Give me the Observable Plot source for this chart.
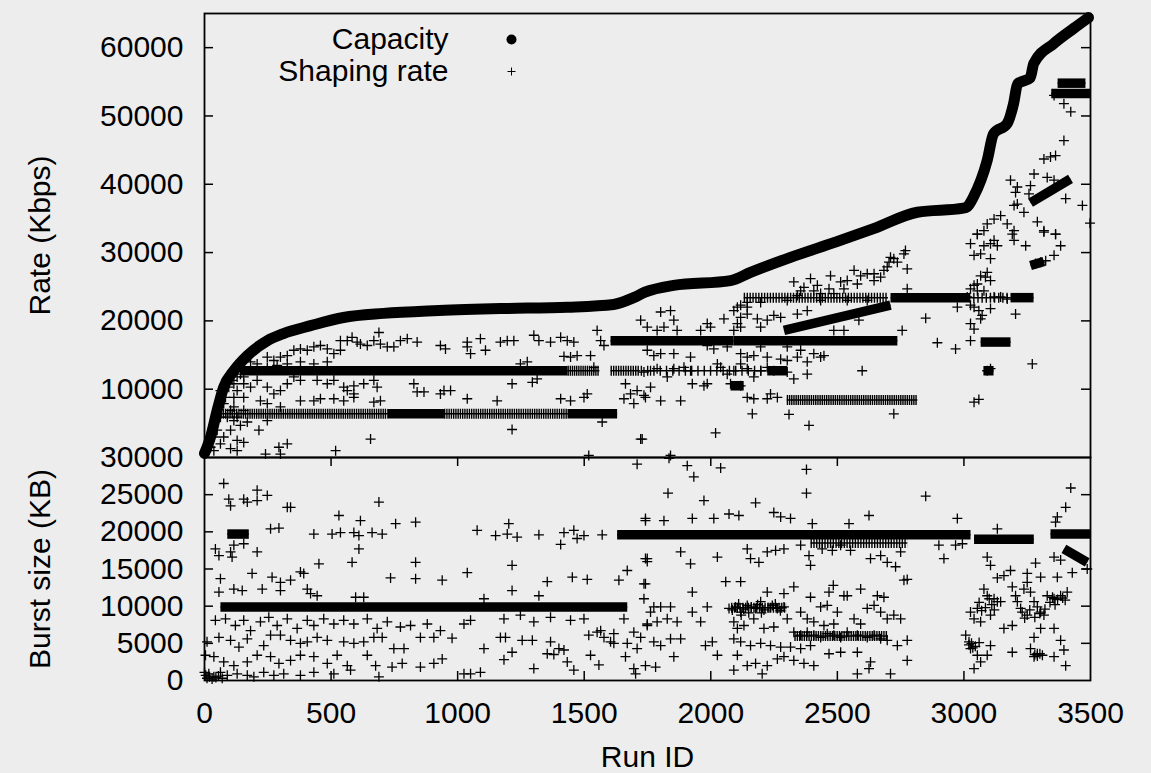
<!DOCTYPE html>
<html>
<head>
<meta charset="utf-8">
<script src="https://cdn.jsdelivr.net/npm/d3@7"></script>
<script src="https://cdn.jsdelivr.net/npm/@observablehq/plot@0.6"></script>
<style>
  html, body { margin: 0; padding: 0; background: #ededed; }
  #chart { position: relative; width: 1151px; height: 773px; }
  #chart svg { position: absolute; left: 0; }
</style>
</head>
<body>
<div id="chart"></div>
<script>
// ---------------- DATA ----------------
const xTicks = [0, 500, 1000, 1500, 2000, 2500, 3000, 3500];
const rateTicks = [10000, 20000, 30000, 40000, 50000, 60000];
const burstTicks = [0, 5000, 10000, 15000, 20000, 25000, 30000];

// Capacity (Kbps) by run ID, sorted ascending
const capacity = [
  [0,600],[10,1500],[24,3000],[50,6900],[76,10300],[116,12700],[169,14900],[248,17100],
  [312,18150],[419,19300],[549,20500],[707,21100],[905,21500],[1169,21800],[1434,22000],
  [1616,22400],[1695,23400],[1740,24200],[1853,25200],[2078,25900],[2157,27100],[2315,29300],
  [2498,31600],[2643,33500],[2816,35900],[2998,36500],[3013,36700],[3037,38100],[3092,43500],
  [3117,47400],[3171,48900],[3196,51800],[3212,54700],[3262,55600],[3276,57700],[3355,60600],
  [3433,62800],[3492,64400]
];

// Dense runs of shaping-rate points: run range, rate (Kbps), number of runs
const rateBands = [
  {from:142, to:1434, rate:12700, n:700},
  {from:1434, to:1560, rate:12700, n:15},
  {from:1604, to:1720, rate:12700, n:12},
  {from:1723, to:2220, rate:12700, n:20},
  {from:2223, to:2302, rate:12700, n:30},
  {from:63, to:722, rate:6400, n:75},
  {from:722, to:946, rate:6400, n:45},
  {from:946, to:1434, rate:6400, n:55},
  {from:1434, to:1630, rate:6400, n:100},
  {from:1604, to:2090, rate:17100, n:250},
  {from:2090, to:2737, rate:17100, n:120},
  {from:2078, to:2130, rate:10500, n:12},
  {from:2300, to:2816, rate:8400, n:60},
  {from:2130, to:2700, rate:23400, n:50},
  {from:2710, to:3020, rate:23400, n:150},
  {from:3020, to:3184, rate:23400, n:10},
  {from:3184, to:3275, rate:23400, n:40},
  {from:2289, to:2710, rate:18600, rateEnd:22300, n:80},
  {from:3066, to:3184, rate:16900, n:35},
  {from:3077, to:3117, rate:12700, n:12},
  {from:3263, to:3421, rate:37300, rateEnd:40800, n:35},
  {from:3263, to:3316, rate:28100, rateEnd:28700, n:8},
  {from:3345, to:3500, rate:53300, n:60},
  {from:3370, to:3480, rate:54800, n:30}
];

// Scattered shaping-rate points [run, Kbps]
const ratePoints = [
  [689,18300],[583,17600],[603,16900],[537,17100],[564,17100],[616,16600],[643,16400],[669,17100],[695,16600],[722,16200],[748,16200],[774,17100],[801,17400],[840,16900],[932,16400],[952,15900],[1038,16900],[1038,16200],[1051,15200],[1090,17400],[1110,15700],[1169,16900],[1196,17100],[1222,17100],[1301,17900],[1321,17100],[1367,16900],[1407,17600],[1433,17100],[1459,16900],[1551,18600],[1565,17100],[1578,16400],[1472,14900],[1525,14900],[1420,14800],[1446,14700],[1538,13200],[1275,14000],[1248,13700],
  [248,14700],[274,14200],[300,14700],[327,14900],[353,15700],[379,15900],[406,15700],[432,16200],[458,16400],[485,15900],[511,15200],[537,15700],[327,13700],[379,14000],[432,13700],[485,14000],[248,13200],[182,14000],[208,13700],[287,13500],
  [155,10800],[182,10300],[208,11300],[129,9800],[116,8800],[155,8800],[248,10300],[274,9300],[300,9800],[327,10800],[353,11800],[379,11300],[445,11300],[485,10800],[511,11300],[550,10300],[590,10500],[629,10800],[669,11300],[682,10300],[590,9300],[564,9800],[379,8300],[432,8300],[458,8600],[511,8600],[550,8300],[590,8800],[669,8100],[695,8300],[827,10800],[840,9600],[867,9600],[932,9300],[946,9800],[972,9800],[1038,8600],[1156,8300],[1215,10800],[1295,11000],[1314,11500],[1407,8600],[1446,8300],[1512,9300],[1499,8800],[1663,10800],[1683,9300],[1657,8600],[1696,7900],[1742,8800],[1709,9800],[300,7400],[248,7900],[221,8300],[116,7400],[103,6900],
  [116,5400],[142,4700],[169,5200],[215,4000],[248,5400],[129,2500],[155,2200],[294,1500],[327,2000],[241,500],[300,500],[518,1000],[656,2700],[1215,4100],[1571,5200],[1729,2700],[76,3000],[63,2000],[37,1000],[103,1300],[129,1000],[1518,300],
  [63,9800],[76,7900],[90,5900],[103,4000],[50,4000],[37,3000],[24,1500],[83,8800],[96,10300],[109,11300],[129,11800],[142,12200],[155,11800],[116,10800],[63,5900],[129,5900],[155,6900],
  [2118,22300],[2144,22700],[2105,22000],[2197,22700],[2302,23000],[2434,23000],[2539,23000],[2618,23000],
  [2328,25700],[2355,24400],[2394,26200],[2421,25200],[2473,26600],[2467,24700],[2513,25700],[2539,25900],[2566,27400],[2592,26600],[2618,26900],[2645,25900],[2671,26400],[2697,27900],[2710,29300],[2737,28600],[2763,29800],[2776,27600],[2776,24700],[2645,26900],[2579,25400],[2526,24700],[2407,24400],[2434,24000],[2486,24000],[2368,24900],[2342,23700],[2684,27400],[2723,29100],[2769,30300],[2704,28600],
  [2091,21500],[2118,20500],[2144,21000],[2184,20300],[2223,20100],[2276,20500],[2197,19100],[2118,19100],[2249,20800],[2091,18600],[2105,19600],[2144,22000],[2052,20300],[1986,19600],[1960,18600],[1999,19100],[1854,20100],[1802,21300],[1841,21500],[1788,18600],[1815,19100],[1867,18600],[1749,19100],[1723,20100],[2381,21500],[2342,21000],[2486,18600],[2526,18600],[2585,20100],[2756,18600],[2849,20400],[2974,22000],[3026,22300],
  [1749,15700],[1775,14900],[1802,15200],[1854,15200],[1920,14700],[1986,16400],[2012,15900],[2065,16200],[2118,15200],[2144,14700],[2170,14900],[2197,16200],[2223,14700],[2276,14400],[2302,14200],[2342,14700],[2381,14000],[2407,15200],[2434,14700],[2447,14900],[2355,15700],[2302,16200],
  [1736,12500],[1762,12700],[1788,13000],[1828,11800],[1854,13000],[1894,13200],[1920,12700],[1927,10800],[1973,10500],[1986,10800],[2026,13700],[2039,13200],[2065,12200],[2091,12700],[2118,13700],[2144,13000],[2170,11800],[2197,12700],[2223,13200],[2249,12700],[2302,12500],[2328,11500],[2381,12200],[1881,8300],[1802,8300],[1736,9100],[1762,10300],[2078,10800],[2118,10500],[2144,8800],[2170,8600],[2223,8600],[2236,9300],[2263,8800],[2598,12700],[2895,16800],[2967,15900],[2164,6400],[2309,6300],[2388,4700],[2723,6400],[2019,3600],[1723,2700],[1841,300],[3040,8100],
  [3026,31300],[3053,32700],[3079,31000],[3105,31300],[3119,31800],[3040,29600],[3066,29800],[3105,29100],[3132,31000],[3191,32700],[3198,31800],[3244,31000],[3316,33000],[3362,32700],[3382,31000],[3356,29600],[3283,28400],[3303,28600],[3323,28800],[3092,27100],[3066,26600],[3105,25900],[3040,25200],[3026,24700],[3053,25400],[3079,24400],[3040,22000],[3059,21500],[3072,20800],[3105,21800],[3026,19600],[3040,18800],[3026,17100],[3066,20300],[3119,23500],[3145,23500],[3171,23200],[3204,21000],[3270,13700],[3092,12700],[3105,13000],[3059,8500],[3013,23500],[3085,26400],[3053,24400],
  [3395,46400],[3316,43700],[3342,44000],[3362,44200],[3277,41500],[3329,41000],[3356,40600],[3184,40600],[3211,39600],[3263,39800],[3257,38600],[3402,37900],[3468,36900],[3198,36900],[3237,35900],[3290,34500],[3316,33200],[3362,32700],[3145,35400],[3119,34900],[3092,34200],[3079,33200],[3053,32700],[3171,34200],[3198,33200],[3422,50600],[3395,51800],[3356,53000],[3204,38800],[3211,37100],[3498,34300]
];

// Dense runs of burst-size points: run range, burst (KB), number of runs
const burstBands = [
  {from:63, to:1670, kb:9900, n:1400},
  {from:90, to:175, kb:19700, n:18},
  {from:1630, to:3026, kb:19600, n:900},
  {from:2394, to:2776, kb:18500, n:35},
  {from:3040, to:3276, kb:19000, n:90},
  {from:3342, to:3500, kb:19700, n:60},
  {from:3395, to:3487, kb:17700, kbEnd:15900, n:25},
  {from:2330, to:2700, kb:6000, n:40},
  {from:2080, to:2300, kb:9800, n:20}
];

// Scattered burst-size points [run, KB]
const burstPoints = [
  [76,26500],[96,24400],[103,23500],[155,24400],[169,24000],[208,25600],[208,24200],[248,24900],[327,23300],[340,23300],[261,20400],[294,20500],[43,17700],[57,16800],[103,17300],[109,16600],[116,18200],[155,18400],[208,17300],[63,13700],[57,11900],[188,14400],[267,13900],[300,13200],[340,13500],[379,14600],[392,14400],[228,12300],[300,12100],[116,12300],[149,12100],[406,12300],[419,11700],[445,11400],[432,19700],[504,19700],[537,19900],[590,19900],[610,19500],[662,19900],[702,19700],[616,21500],[689,24000],[755,21100],[834,21300],[531,22200],[610,17700],[452,15700],[583,15900],[834,15900],[735,13800],[834,13700],[939,13500],[1038,14500],[1077,20200],[1150,19500],[1196,19700],[1202,21100],[1235,19300],[1321,19600],[1407,18300],[1420,19900],[1459,20200],[1472,19100],[1499,19500],[1571,19600],[1215,15500],[1354,13300],[1453,13900],[1512,13600],[1215,12100],[1321,11400],[1637,13500],[1670,14800],[1709,29100],[1742,21500],[1742,16400],[1736,13000],[597,11200],[629,11200],[1104,11000],
  [43,8100],[83,8300],[122,7400],[155,8100],[182,6700],[221,7900],[254,8500],[287,7400],[327,8300],[366,7000],[406,8100],[432,7400],[471,8300],[511,7600],[550,8100],[590,7600],[643,8300],[682,7000],[722,7900],[774,7200],[814,7400],[880,7600],[932,6700],[1025,7600],[1051,8100],[1183,8300],[1248,8800],[1301,7900],[1367,8500],[1446,8100],[1499,8300],[1565,6700],[1617,6300],[1657,8300],[1696,6500],[1749,7400],
  [10,5200],[57,5800],[103,5400],[136,4500],[169,5600],[234,4700],[261,6100],[300,6100],[340,5400],[379,5000],[406,5200],[445,5800],[485,5400],[550,5200],[590,5000],[629,5200],[669,5800],[702,5800],[748,4300],[788,4300],[853,5800],[906,5800],[978,5700],[1104,4300],[1169,5800],[1189,5800],[1255,5400],[1295,5400],[1367,5200],[1400,4300],[1420,4100],[1518,6100],[1551,6500],[1578,5800],[1617,5000],[1670,5000],[1709,4300],
  [4,3400],[37,3200],[76,2500],[116,2000],[169,2500],[208,3400],[261,3200],[294,2300],[340,2700],[379,3400],[432,3200],[485,2300],[524,3400],[564,2000],[643,3400],[676,2000],[741,1800],[781,2300],[853,1800],[906,2300],[939,2900],[1183,2800],[1215,3800],[1301,1600],[1354,3600],[1380,3500],[1433,2500],[1459,1400],[1525,3400],[1558,2100],[1604,5200],[1663,3200],[1696,1600],
  [0,1100],[17,900],[37,500],[63,1100],[90,700],[129,900],[169,700],[195,500],[234,1100],[274,700],[313,900],[379,700],[432,1100],[511,900],[577,1400],[689,500],[1025,900],[1051,900],[1090,1100],[1703,900],[10,300],[20,500],[30,200],[45,400],[55,600],[70,300],[5,700],
  [1835,29900],[1907,28900],[1933,27400],[2039,28600],[2378,28400],[2378,25200],[1831,25200],[1973,24200],[2177,23900],[2849,24800],[3422,25900],[3402,23300],[3369,22000],[3362,21300],[1742,21800],[1815,21500],[1927,21800],[2012,21800],[2072,22400],[2111,22200],[2249,22600],[2276,22000],[2315,21800],[2401,21100],[2546,21100],[2625,22200],[2974,21800],[3132,20400],
  [1749,16400],[1749,16000],[1881,17300],[1920,15700],[2026,16600],[2144,17700],[2157,16400],[2190,15900],[2223,17300],[2256,17500],[2289,17700],[2355,18200],[2388,16800],[2394,15500],[2440,17700],[2480,17500],[2513,18200],[2552,17500],[2631,16400],[2671,16800],[2697,15900],[2730,15300],[2750,17300],[2776,13600],[2763,13500],[2901,18200],[2921,16400],[2967,18200],[2994,18400],[3092,16600],[3105,15500],[3132,13800],[3158,14100],[3184,14800],[3250,14400],[3283,15800],[3303,13900],[3356,16600],[3369,13900],[3382,16200],[3428,14500],[3487,15000],[2059,13300],[2118,13300],[2223,11900],[2289,11700],[2328,12600],[2394,11200],[2467,11900],[2484,12800],[2539,11400],[2592,12300],[2658,11400],[2684,11200],[1927,11900],[1742,13000],
  [3079,12300],[3092,11400],[3119,11000],[3145,10600],[3053,9700],[3026,9200],[3040,8300],[3066,7900],[3105,8800],[3132,10600],[3158,7000],[3191,7400],[3191,12600],[3204,11400],[3211,10600],[3224,9700],[3237,12300],[3250,13200],[3263,11900],[3277,10600],[3290,9900],[3303,9200],[3316,8800],[3329,11400],[3356,11000],[3382,11400],[3408,11900],[3303,7000],[3277,5800],[3263,4300],[3290,3600],[3310,3400],[3356,3200],[3395,4100],[3382,5400],[3356,7000],[3402,2000],[3191,3800],[3020,5200],[3026,4300],[3053,3400],[3066,2500],[3040,1600],[3092,3400],[3105,4700],[3007,6100],[3277,3200],
  [3350,11200],[3370,10900],[3390,11100],[3400,10800],[3340,10500],[3360,10200],[3230,9200],[3250,8800],[3260,9500],[3280,8500],[3300,9000],[3240,8400],[3320,9600],[3020,4800],[3030,5000],[3045,4600],[3060,5100],[3035,4400],[3290,3300],[3300,3600],[3280,3500],[3100,11000],[3110,10200],[3120,9500],[3085,9800],[3060,10500],[3070,9400],
  [1736,11000],[1775,9900],[1762,9200],[1802,9900],[1841,9900],[1749,7600],[1788,7900],[1828,8300],[1867,7900],[1723,5800],[1775,5200],[1802,4700],[1841,5600],[1881,5600],[1854,3200],[1742,2000],[1782,1800],[1927,9200],[1960,7900],[1986,9900],[1979,4700],[2006,5200],[2026,3400],[2072,9700],[2098,9900],[2118,9200],[2144,10100],[2177,9700],[2197,10600],[2243,10100],[2263,9700],[2289,9900],[2091,7900],[2131,7400],[2170,8300],[2210,7000],[2249,7200],[2302,8300],[2328,6500],[2355,6100],[2381,6500],[2407,6100],[2434,5800],[2460,6300],[2486,6100],[2513,5800],[2539,6500],[2579,6100],[2618,5800],[2645,6100],[2671,5600],[2697,5400],[2091,5600],[2118,5200],[2157,4700],[2197,5000],[2236,4700],[2276,4500],[2315,4500],[2355,4300],[2394,4700],[2434,9900],[2460,10100],[2500,9200],[2526,11400],[2566,8300],[2592,7600],[2618,9700],[2645,10100],[2671,9200],[2697,8300],[2723,8800],[2750,8300],[2486,7600],[2407,7900],[2447,7400],[2381,8300],[2355,9200],[2105,3400],[2144,2000],[2177,2300],[2223,2000],[2263,2900],[2289,3200],[2328,2700],[2368,2300],[2407,2000],[2467,3600],[2513,3800],[2579,3800],[2631,2500],[2625,1600],[2579,900],[2710,900],[2203,900],[2091,1400],[2105,7000],[2776,5400],[2776,2700],[2737,4700],
  [2085,9500],[2110,10300],[2130,9600],[2160,9900],[2185,10200],[2210,9500],[2230,9800],[2255,10300],[2275,9400],[2120,8800],[2150,9100],[2200,9100]
];

// ---------------- DRAWING ----------------
const FONT = '"Liberation Sans", Arial, Helvetica, sans-serif';
const W = 1151, ML = 204, MR = 61;
const plotW = W - ML - MR;           // 886 px
const XMAX = 3500;
const TICK = 9;                       // tick length, px
const tickRun = TICK * XMAX / plotW;  // tick length in run units

// plus marker: arms of length r each side
const plus = {draw(ctx, size) { const r = Math.sqrt(size / Math.PI); ctx.moveTo(-r, 0); ctx.lineTo(r, 0); ctx.moveTo(0, -r); ctx.lineTo(0, r); }};

// a dense run of "+" markers: vertical arms as a comb (solid when very dense), horizontal arms as a line
function bandMarks(bands, key, endKey) {
  return bands.flatMap(b => {
    const pxLen = (b.to - b.from) / XMAX * plotW;
    const sp = pxLen / b.n;
    const dash = sp < 1.8 ? undefined : `1.4,${(sp - 1.4).toFixed(2)}`;
    const y2 = d => (d[endKey] ?? d[key]);
    return [
      Plot.link([b], {x1: "from", x2: "to", y1: key, y2, stroke: "black", strokeWidth: dash ? 10 : 9.5, strokeDasharray: dash}),
      Plot.link([b], {x1: "from", x2: "to", y1: key, y2, stroke: "black", strokeWidth: 1.5})
    ];
  });
}

const svgStyle = {background: "transparent", fontFamily: FONT, fontSize: "30px", color: "black", overflow: "visible"};

const topPlot = Plot.plot({
  width: W, height: 457,
  marginLeft: ML, marginRight: MR, marginTop: 13, marginBottom: 0,
  style: svgStyle,
  x: {domain: [0, XMAX], axis: null},
  y: {domain: [0, 65000], ticks: rateTicks, tickFormat: d => String(d), tickSize: 0, tickPadding: 21, label: null},
  marks: [
    ...bandMarks(rateBands, "rate", "rateEnd"),
    Plot.line(capacity, {x: d => d[0], y: d => d[1], curve: "monotone-x", stroke: "black", strokeWidth: 11, strokeLinecap: "round", strokeLinejoin: "round"}),
    Plot.dot(ratePoints, {x: d => d[0], y: d => d[1], symbol: plus, r: 5, fill: "none", stroke: "black", strokeWidth: 1.3}),
    Plot.ruleY(rateTicks, {x1: 0, x2: tickRun, stroke: "black", strokeWidth: 1.5}),
    Plot.ruleY(rateTicks, {x1: XMAX - tickRun, x2: XMAX, stroke: "black", strokeWidth: 1.5}),
    Plot.frame({stroke: "black", strokeWidth: 1.8}),
    // legend
    Plot.text(["Capacity"], {text: d => d, frameAnchor: "top-left", dx: 244, dy: 26, textAnchor: "end", lineAnchor: "middle", fontSize: 30, fill: "black"}),
    Plot.text(["Shaping rate"], {text: d => d, frameAnchor: "top-left", dx: 244, dy: 58, textAnchor: "end", lineAnchor: "middle", fontSize: 30, fill: "black"}),
    Plot.dot([0], {frameAnchor: "top-left", dx: 307, dy: 26, r: 5, fill: "black", stroke: "none"}),
    Plot.dot([0], {frameAnchor: "top-left", dx: 307, dy: 58, r: 4, symbol: plus, fill: "none", stroke: "black", strokeWidth: 1}),
    // axis title
    Plot.text(["Rate (Kbps)"], {text: d => d, frameAnchor: "left", dx: -164, rotate: -90, textAnchor: "middle", lineAnchor: "middle", fontSize: 30, fill: "black"})
  ]
});
topPlot.style.top = "0px";

const tickKB = TICK * 30000 / 223;
const bottomPlot = Plot.plot({
  width: W, height: 336,
  marginLeft: ML, marginRight: MR, marginTop: 20, marginBottom: 93,
  style: svgStyle,
  x: {domain: [0, XMAX], ticks: xTicks, tickFormat: d => String(d), tickSize: 0, tickPadding: 21, label: null},
  y: {domain: [0, 30000], ticks: burstTicks, tickFormat: d => String(d), tickSize: 0, tickPadding: 21, label: null},
  marks: [
    ...bandMarks(burstBands, "kb", "kbEnd"),
    Plot.dot(burstPoints, {x: d => d[0], y: d => d[1], symbol: plus, r: 5, fill: "none", stroke: "black", strokeWidth: 1.3}),
    Plot.ruleY(burstTicks.filter(v => v > 0 && v < 30000), {x1: 0, x2: tickRun, stroke: "black", strokeWidth: 1.5}),
    Plot.ruleY(burstTicks.filter(v => v > 0 && v < 30000), {x1: XMAX - tickRun, x2: XMAX, stroke: "black", strokeWidth: 1.5}),
    Plot.ruleX(xTicks.filter(v => v > 0 && v < XMAX), {y1: 0, y2: tickKB, stroke: "black", strokeWidth: 1.5}),
    Plot.ruleX(xTicks.filter(v => v > 0 && v < XMAX), {y1: 30000 - tickKB, y2: 30000, stroke: "black", strokeWidth: 1.5}),
    Plot.frame({stroke: "black", strokeWidth: 1.8}),
    Plot.text(["Burst size (KB)"], {text: d => d, frameAnchor: "left", dx: -164, rotate: -90, textAnchor: "middle", lineAnchor: "middle", fontSize: 30, fill: "black"}),
    Plot.text(["Run ID"], {text: d => d, frameAnchor: "bottom", dy: 77, lineAnchor: "middle", fontSize: 30, fill: "black"})
  ]
});
bottomPlot.style.top = "437px";

const chart = document.getElementById("chart");
chart.appendChild(bottomPlot);
chart.appendChild(topPlot);
</script>
</body>
</html>
